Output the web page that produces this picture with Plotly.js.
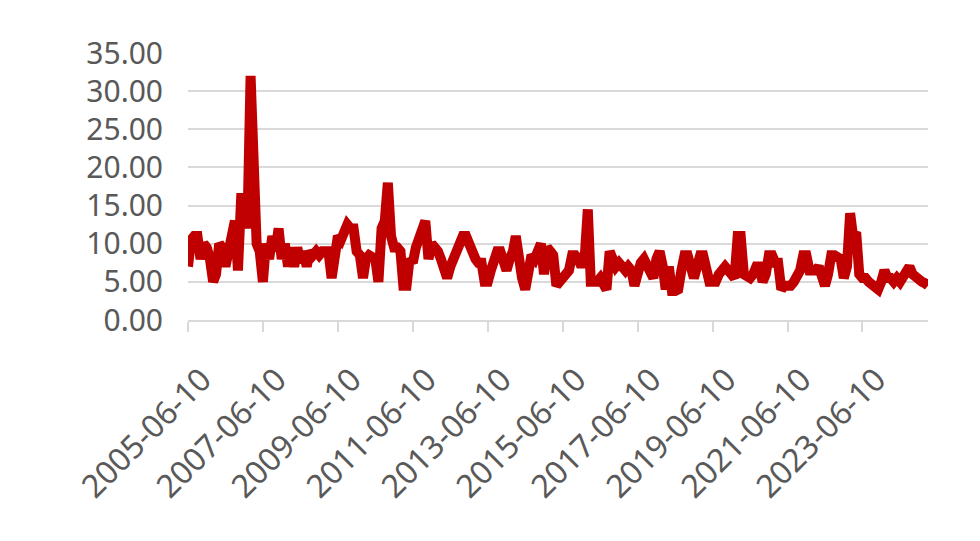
<!DOCTYPE html>
<html>
<head>
<meta charset="utf-8">
<script src="https://cdn.plot.ly/plotly-3.0.1.min.js"></script>
<style>html,body{margin:0;padding:0;background:#fff;}#chart{width:980px;height:541px;}</style>
</head>
<body>
<div id="chart"></div>
<script>
// Monthly series starting 2005-06-10
const startYear = 2005, startMonth = 6, startDay = 10;
const values = [
7,10.5,11,11,8,10,9.5,8,5,6,10,9.5,
7,9.5,12,13,6.5,16,16,12,32,15,10,9,
5,10,8,11,9,12,8,10,7,9.5,7,9.5,
7.5,9,7,9,8.5,9,8.5,9,9,9,5.5,9,
11,10.5,12,12.5,12,12,9,8.5,5.5,8,8.5,8,
8,5,12,13,18,11,9.5,9.5,9,4.5,4.5,8,
7.5,9.5,11,12,13,8,10,9.5,9,8,6,5.5,
7,8,8.5,10,11,11,10,8.5,8,7.5,7.5,5,
5,6.5,8.5,9,9,7,6.5,8,9,11,7,5.5,
4,6,8.5,8,9,10,6,9.5,9,8.5,4.5,5,
6,6,6.5,8.5,8.5,8,7,8,14.5,5,5,5,
5.5,5,4,9,8,7,7.5,7,6.5,7,6.5,4.5,
6.5,7.5,8,7,6,5.5,8,9,7,4,7,3.8,
3.8,4,6.5,8.5,8.5,7,5.5,7,8.5,8.5,7,5,
5,5,6,6.5,7,6.5,6,5.5,11,11,6,5.5,
5.5,6,7,7,5,6,8.5,8.5,7.5,7.5,4,4.5,
4.5,4.5,5,6,6.5,8.5,8.5,6.5,6.5,6.5,7,6,
4.5,6,8.5,8.5,8,8,5.5,7,14,11,11.5,6,
5.5,5.5,5,4.5,4,4,5,6.5,5.5,5.5,5,5.5,
5,5.5,6.5,7,6,5.5,5.5,5,4.8,4.5
];
const tickLabels = ["2005-06-10","2007-06-10","2009-06-10","2011-06-10","2013-06-10","2015-06-10","2017-06-10","2019-06-10","2021-06-10","2023-06-10"];
const yTicks = [0,5,10,15,20,25,30,35];

function pad(n){return (n<10?'0':'')+n;}
const dates = values.map((v,i)=>{
  const t = (startMonth-1)+i;
  const y = startYear + Math.floor(t/12);
  const m = (t%12)+1;
  return y+'-'+pad(m)+'-'+pad(startDay);
});

const trace = {
  x: dates, y: values, type:'scatter', mode:'lines',
  line:{color:'#c00000', width:10},
  hoverinfo:'skip'
};
const xfont = {family:'Noto Sans, sans-serif', size:32, color:'#595959'};
const yfont = {family:'Noto Sans, sans-serif', size:30, color:'#595959'};
const layout = {
  width:980, height:541,
  margin:{l:188, r:52, t:53, b:221},
  paper_bgcolor:'#fff', plot_bgcolor:'#fff',
  showlegend:false,
  xaxis:{
    type:'date', range:[dates[0], dates[dates.length-1]],
    tickvals: tickLabels, ticktext: tickLabels,
    tickangle:-45, tickfont:xfont,
    showgrid:false, zeroline:false,
    showline:true, linecolor:'#d9d9d9', linewidth:2,
    ticks:'outside', ticklen:10, tickcolor:'#d9d9d9', tickwidth:2,
    ticklabelshift:14, ticklabelstandoff:16,
    fixedrange:true
  },
  yaxis:{
    range:[0,35], tickvals:yTicks, ticktext:yTicks.map(v=>v.toFixed(2)),
    tickfont:yfont, showgrid:true, gridcolor:'#d9d9d9', gridwidth:2,
    zeroline:false, showline:false, ticks:'', ticklabelstandoff:24,
    fixedrange:true
  }
};
Plotly.newPlot('chart',[trace],layout,{displayModeBar:false, staticPlot:true});
</script>
</body>
</html>
